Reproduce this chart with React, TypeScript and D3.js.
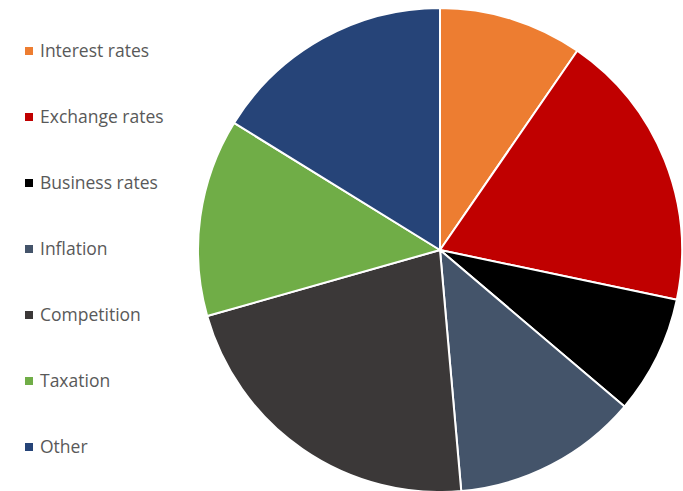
import React from "react";
import * as d3 from "d3";

const categories = ["Interest rates", "Exchange rates", "Business rates", "Inflation", "Competition", "Taxation", "Other"];
const values = [9.6, 18.7, 7.9, 12.4, 22.0, 13.2, 16.2];
const colors = ["#ED7D31", "#C00000", "#000000", "#44546A", "#3B3838", "#70AD47", "#264478"];

export default function App() {
  const W = 683, H = 491;
  const cx = 440, cy = 250, r = 242;
  const data = categories.map((c, i) => ({ c, v: values[i], color: colors[i] }));
  const pie = d3.pie<any>().value((d) => d.v).sort(null);
  const arc = d3.arc<any>().innerRadius(0).outerRadius(r);
  const arcs = pie(data);
  const legendY = d3.scalePoint<string>().domain(categories).range([51, 447]);
  return (
    <svg width={W} height={H} style={{ position: "absolute", left: 0, top: 0 }}>
      <rect width={W} height={H} fill="#fff" />
      <g transform={`translate(${cx},${cy})`}>
        {arcs.map((a, i) => (
          <path key={i} d={arc(a) || ""} fill={a.data.color} stroke="#fff" strokeWidth={2} strokeLinejoin="round" />
        ))}
      </g>
      {categories.map((c, i) => (
        <g key={c} transform={`translate(0,${legendY(c)})`}>
          <rect x={25} y={-4} width={8} height={8} fill={colors[i]} />
          <text x={40} y={0} dy="0.35em" fontFamily="'Open Sans', 'Liberation Sans', sans-serif" fontSize={17.5} fill="#595959">{c}</text>
        </g>
      ))}
    </svg>
  );
}
